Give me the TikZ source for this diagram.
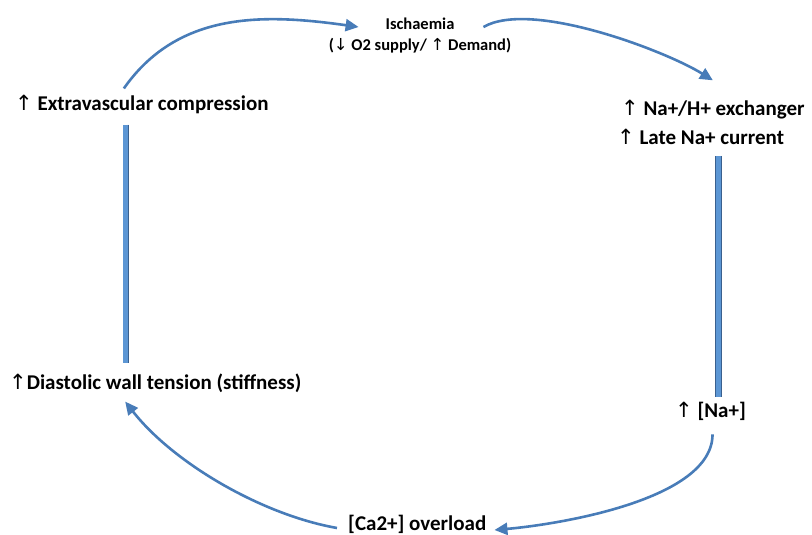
\documentclass[tikz,border=0pt]{standalone}
\usepackage{fontspec}
\setmainfont{Carlito}
\newfontfamily\arrfont{DejaVu Sans}
\usetikzlibrary{arrows.meta,calc}
\definecolor{arrblue}{RGB}{72,124,184}
\definecolor{barblue}{RGB}{92,150,212}
\definecolor{barline}{RGB}{58,96,142}
\newcommand{\upa}{{\arrfont\mdseries ↑}}
\newcommand{\dna}{{\arrfont\mdseries ↓}}

\begin{document}
\begin{tikzpicture}[x=1pt,y=1pt,
  lbl/.style={font=\fontsize{21}{25}\selectfont\bfseries,inner sep=0pt,anchor=west},
  cyc/.style={draw=arrblue,line width=2.6pt,-{Triangle[length=13pt,width=12pt]}},
  bar/.style={draw=barline,line width=0.6pt,double=barblue,double distance=5pt}]
\useasboundingbox (0,0) rectangle (812,535);
% labels
\node[inner sep=0pt,align=center,font=\fontsize{16.5}{21}\selectfont\bfseries] (isch) at (420,499) {Ischaemia\\(\dna\ O2 supply/ \upa\ Demand)};
\node[lbl] (evc) at (15,431) {\upa\ Extravascular compression};
\node[lbl] (dwt) at (9,152) {\upa Diastolic wall tension (stiffness)};
\node[lbl] (nhe) at (621,425) {\upa\ Na+/H+ exchanger};
\node[lbl] (late) at (617,398) {\upa\ Late Na+ current};
\node[lbl] (nap) at (675,124) {\upa\ [Na+]};
\node[lbl] (ca) at (348,11) {[Ca2+] overload};
% bars
\draw[bar,shorten <=11pt,shorten >=10pt] ($(evc.south)+(-16,0)$) -- ($(evc.south |- dwt.north)+(-16,0)$);
\draw[bar,shorten <=11pt,shorten >=5pt] ($(late.south -| nap.north)+(8,0)$) -- ($(nap.north)+(8,0)$);
% cycle
\draw[cyc] ([shift={(-18,6)}]evc.north) to[out=55,in=172] ([shift={(30,9)}]isch.west);
\draw[cyc] ([shift={(-28,9)}]isch.east) to[out=30,in=148,looseness=0.6] ([yshift=20]nhe.north);
\draw[cyc] ([shift={(2,-14)}]nap.south) to[out=-90,in=5,looseness=0.7] ([shift={(8,-6)}]ca.east);
\draw[cyc] ([shift={(-11,-4)}]ca.west) to[out=170,in=-52,looseness=0.8] ([shift={(-30,-9)}]dwt.south);
\end{tikzpicture}
\end{document}
